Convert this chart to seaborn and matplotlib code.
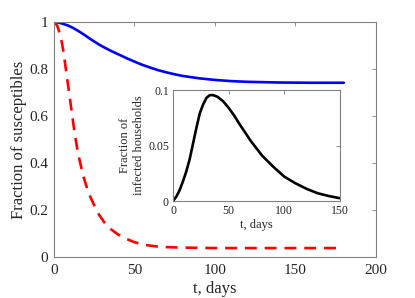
import matplotlib
matplotlib.use("Agg")
import matplotlib.pyplot as plt
from matplotlib.ticker import FuncFormatter
import seaborn as sns

# susceptible fraction, households model (solid blue)
t_blue = [0, 3, 6, 9, 12, 15, 18, 21, 24, 27, 30, 35, 40, 45, 50, 55, 60, 65, 70,
          75, 80, 90, 100, 110, 120, 140, 160, 180]
s_blue = [1.0, 0.998, 0.992, 0.985, 0.975, 0.963, 0.95, 0.936, 0.922, 0.909, 0.897,
          0.879, 0.863, 0.847, 0.832, 0.818, 0.806, 0.795, 0.786, 0.778, 0.771,
          0.761, 0.754, 0.749, 0.746, 0.743, 0.742, 0.742]

# susceptible fraction, homogeneous model (dashed red)
t_red = [0, 1, 2, 3, 4, 5, 6, 7, 8, 9, 10, 11, 12, 13, 14, 15, 16, 18, 20, 22, 25,
         28, 31, 35, 40, 45, 50, 55, 60, 65, 70, 80, 100, 140, 180]
s_red = [1.0, 0.995, 0.985, 0.965, 0.94, 0.91, 0.87, 0.82, 0.77, 0.72, 0.67, 0.62,
         0.57, 0.52, 0.48, 0.44, 0.41, 0.35, 0.305, 0.265, 0.22, 0.18, 0.15, 0.12,
         0.095, 0.077, 0.063, 0.054, 0.048, 0.044, 0.042, 0.04, 0.038, 0.038, 0.038]

# inset: fraction of infected households
t_inf = [0, 3, 6, 9, 12, 15, 18, 21, 24, 27, 30, 33, 36, 40, 45, 50, 55, 60, 70,
         80, 90, 100, 110, 120, 130, 140, 150]
i_inf = [0.0, 0.004, 0.01, 0.018, 0.027, 0.038, 0.052, 0.066, 0.079, 0.087, 0.093,
         0.0955, 0.0955, 0.094, 0.09, 0.084, 0.077, 0.069, 0.054, 0.041, 0.031,
         0.022, 0.016, 0.011, 0.007, 0.0045, 0.0025]

sns.set_theme(style="white")
plt.rcParams["font.family"] = ["Liberation Serif", "DejaVu Serif"]

fmt = FuncFormatter(lambda v, p: f"{v:g}")


def style_axes(ax, size, xpad, ypad):
    for sp in ax.spines.values():
        sp.set_color("#808080")
        sp.set_linewidth(0.8)
    ax.tick_params(direction="in", top=True, right=True, length=3, width=0.6,
                   color="#808080", labelsize=size, labelcolor="#262626")
    ax.tick_params(axis="x", pad=xpad)
    ax.tick_params(axis="y", pad=ypad)


fig = plt.figure(figsize=(4.15, 2.98), dpi=100)
ax = fig.add_axes([0.130, 0.1376, 0.776, 0.788])

sns.lineplot(x=t_blue, y=s_blue, ax=ax, color="#0000ff", linewidth=1.9)
sns.lineplot(x=t_red, y=s_red, ax=ax, color="#ff0000", linewidth=1.9)
ax.lines[-1].set_dashes([4.5, 3])

ax.set_xlim(0, 200)
ax.set_ylim(0, 1)
ax.set_xticks([0, 50, 100, 150, 200])
ax.set_yticks([0, 0.2, 0.4, 0.6, 0.8, 1])
ax.xaxis.set_major_formatter(fmt)
ax.yaxis.set_major_formatter(fmt)
style_axes(ax, 11, 5, 4)
ax.set_xlabel("t, days", fontsize=12, color="#262626", labelpad=3)
ax.set_ylabel("Fraction of susceptibles", fontsize=12, color="#262626", labelpad=2)

inset = fig.add_axes([0.417, 0.3255, 0.402, 0.372])
sns.lineplot(x=t_inf, y=i_inf, ax=inset, color="black", linewidth=1.9)
inset.set_xlim(0, 150)
inset.set_ylim(0, 0.1)
inset.set_xticks([0, 50, 100, 150])
inset.set_yticks([0, 0.05, 0.1])
inset.xaxis.set_major_formatter(fmt)
inset.yaxis.set_major_formatter(fmt)
style_axes(inset, 8.5, 3, 3)
inset.set_xlabel("t, days", fontsize=9, color="#262626", labelpad=1)
inset.set_ylabel("Fraction of\ninfected households", fontsize=9, color="#262626",
                 labelpad=2)

fig.savefig("out.png", dpi=100)
plt.close(fig)
